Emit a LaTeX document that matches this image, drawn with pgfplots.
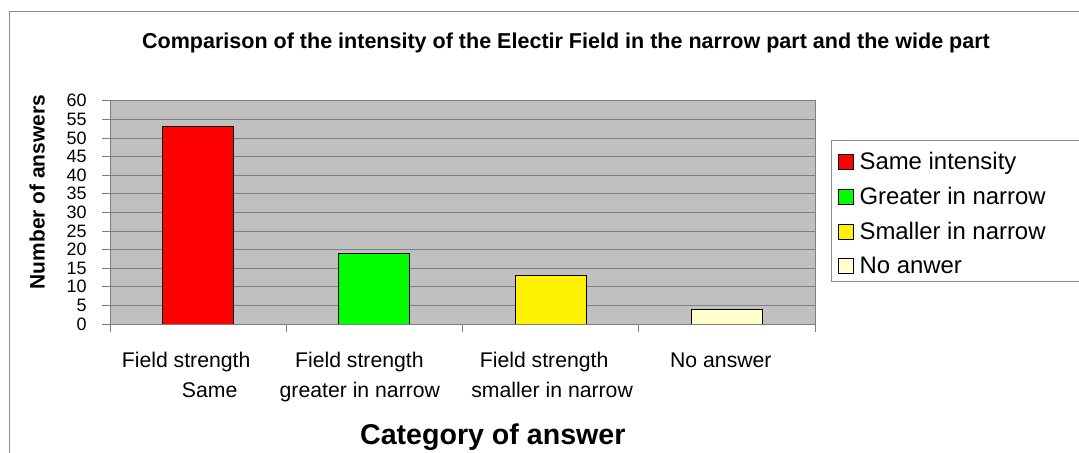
\documentclass[border=0pt]{standalone}
\usepackage{fontspec}
\setmainfont{Liberation Sans}
\usepackage{pgfplots}
\pgfplotsset{compat=1.18}
\definecolor{plotbg}{HTML}{C0C0C0}
\definecolor{gridc}{HTML}{7F7F7F}
\definecolor{beige}{HTML}{FFFFCC}
\definecolor{frame}{HTML}{8C8C8C}
\begin{document}
\begin{tikzpicture}
\useasboundingbox (0,0) rectangle (1079bp,453bp);
\fill[white] (0,0) rectangle (1079bp,453bp);
\draw[frame, line width=1bp] (9bp,-5bp) |- (1090bp,441bp);
\node[font=\bfseries\fontsize{21.6}{26}\selectfont] at (566bp,410bp) {Comparison of the intensity of the Electir Field in the narrow part and the wide part};
\begin{axis}[
  at={(110bp,129bp)}, anchor=south west,
  scale only axis, width=705bp, height=223.3bp,
  xmin=0, xmax=4, ymin=0, ymax=60,
  ytick={0,5,...,60},
  xtick={0.5,1.5,2.5,3.5},
  xticklabels={{\hspace*{-24bp}Field strength\\\hspace*{23bp}Same},{\hspace*{-30bp}Field strength\\\hspace*{-29bp}greater in narrow},{\hspace*{-13bp}Field strength\\\hspace*{3bp}smaller in narrow},{\hspace*{-12bp}No answer}},
  minor xtick={0,1,2,3,4},
  tick align=outside,
  major tick length=8bp, minor tick length=8bp,
  major x tick style={draw=none},
  tick style={gridc, line width=0.8bp},
  xtick pos=bottom, ytick pos=left,
  ymajorgrids, grid style={gridc, line width=0.8bp},
  axis background/.style={fill=plotbg},
  axis line style={gridc, line width=0.8bp},
  /pgf/number format/assume math mode=true,
  yticklabel style={font=\fontsize{18}{20}\selectfont, xshift=-12bp},
  xticklabel style={align=center, font=\fontsize{21.3}{30}\selectfont, yshift=-17bp},
  ylabel={Number of answers},
  ylabel style={at={(axis description cs:-0.1035,0.591)}, anchor=center, font=\bfseries\fontsize{21}{25}\selectfont},
  xlabel={Category of answer},
  xlabel style={at={(axis description cs:0.543,-0.506)}, anchor=center, font=\bfseries\fontsize{28.7}{34}\selectfont},
  ybar, bar width=71bp,
  legend style={at={(axis description cs:1.0326,0.778)}, anchor=north west, draw=none, fill=none, inner sep=0pt,
    font=\fontsize{24}{28}\selectfont, row sep=12bp},
  legend cell align=left,
  legend image code/.code={\path[draw=none, fill=none] (0bp,0bp) -- (19bp,0bp); \draw[#1, draw=black, line width=0.8bp] (0bp,-7.5bp) rectangle (15bp,7.5bp);},
]
\addplot[fill=red, draw=black, line width=0.9bp, bar shift=0pt] coordinates {(0.5,53)};
\addlegendentry{Same intensity}
\addplot[fill=green, draw=black, line width=0.9bp, bar shift=0pt] coordinates {(1.5,19)};
\addlegendentry{Greater in narrow}
\addplot[fill=yellow, draw=black, line width=0.9bp, bar shift=0pt] coordinates {(2.5,13)};
\addlegendentry{Smaller in narrow}
\addplot[fill=beige, draw=black, line width=0.9bp, bar shift=0pt] coordinates {(3.5,4)};
\addlegendentry{No anwer}
\end{axis}
\draw[frame, line width=1bp] (831bp,171bp) rectangle (1100bp,312bp);
\end{tikzpicture}
\end{document}
